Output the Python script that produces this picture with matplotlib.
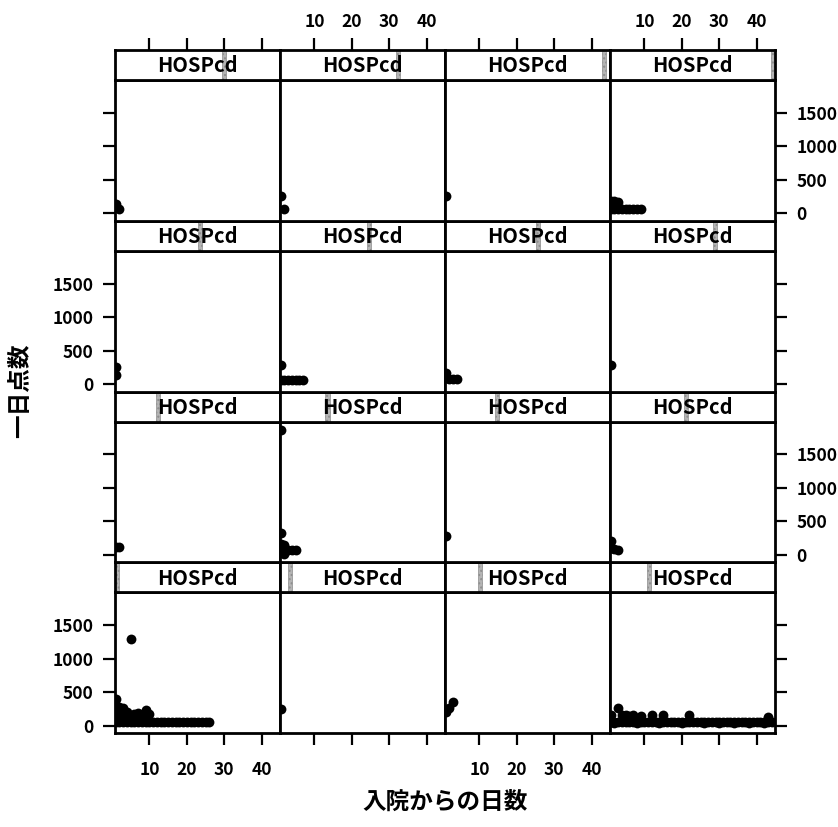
import matplotlib
matplotlib.use('Agg')
import matplotlib.pyplot as plt
from matplotlib.patches import Rectangle

plt.rcParams['font.family'] = ['Noto Sans CJK JP', 'DejaVu Sans']

# ── data: one list per panel, lattice order (bottom-left first, row by row upward) ──
days = [
    [1, 1, 1, 1, 2, 2, 2, 3, 3, 3, 4, 4, 4, 5, 5, 6, 6, 7, 7, 8, 8, 9, 9, 10, 10,
     11, 12, 13, 14, 15, 16, 17, 18, 19, 20, 21, 22, 23, 24, 25, 26],
    [1],
    [1, 2, 3],
    [1, 1, 2, 3, 3, 4, 4, 5, 5, 6, 6, 7, 7, 8, 9, 9, 10, 11, 12, 12, 13, 14,
     15, 15, 16, 17, 18, 19, 20, 21, 22, 22, 23, 24, 25, 26, 27, 28, 29, 30,
     31, 32, 33, 34, 35, 36, 37, 38, 39, 40, 41, 42, 43, 43, 44,
     2, 8, 14, 20, 26, 30, 34, 38, 42],
    [1, 2],
    [1, 1, 1, 2, 2, 2, 3, 4, 5],
    [1],
    [1, 1, 2, 3],
    [1, 1],
    [1, 1, 2, 3, 4, 5, 6, 7],
    [1, 1, 2, 3, 4],
    [1],
    [1, 2],
    [1, 2],
    [1],
    [1, 1, 2, 2, 3, 3, 4, 5, 6, 7, 8, 9],
]
points = [
    [400, 300, 150, 60, 280, 180, 60, 270, 150, 60, 200, 140, 60, 1290, 60, 170, 60,
     190, 60, 160, 60, 230, 60, 170, 60,
     55, 55, 50, 55, 50, 55, 50, 55, 50, 55, 50, 55, 50, 55, 50, 55],
    [250],
    [210, 260, 350],
    [160, 60, 60, 265, 60, 160, 60, 160, 60, 150, 60, 160, 60, 60, 150, 60, 60, 60,
     160, 60, 60, 60, 160, 60, 55, 55, 50, 55, 55, 50, 160, 55, 50, 55, 50, 55,
     50, 55, 50, 55, 50, 55, 50, 55, 50, 55, 50, 55, 50, 55, 50, 55, 135, 55, 50,
     40, 40, 40, 40, 40, 40, 40, 40, 40],
    [120, 120],
    [1870, 330, 160, 150, 60, 20, 80, 80, 80],
    [275],
    [200, 110, 90, 80],
    [260, 130],
    [290, 60, 60, 60, 60, 60, 60, 60],
    [160, 90, 80, 70, 70],
    [285],
    [140, 70],
    [265, 70],
    [265],
    [190, 70, 190, 70, 170, 70, 70, 70, 70, 70, 70, 70],
]
# HOSPcd level shown by the strip indicator (index among the hospital levels)
hosp_level = [0, 2, 8, 9, 10, 11, 12, 18, 20, 21, 22, 25, 26, 28, 38, 39]
n_levels = 40

x_ticks = [10, 20, 30, 40]
y_ticks = [0, 500, 1000, 1500]

# ── layout (pixels of the 838 x 827 figure) ──
W, H = 838, 827
COL_X = [115, 280, 445, 610, 775]
TOP = 50
ROW_H = 170.75
STRIP_H = 30
XLIM = (0.8, 44.9)
YLIM = (-110, 1990)
LW = 2.0

fig = plt.figure(figsize=(W / 100, H / 100), dpi=100)
fig.patch.set_facecolor('white')

tick_kw = dict(direction='out', length=8.5, width=1.6, labelsize=12.5, pad=7)

for i in range(16):
    r = 3 - i // 4          # 0 = top row
    c = i % 4
    x0 = COL_X[c]
    w = COL_X[c + 1] - COL_X[c]
    y_top = TOP + r * ROW_H
    # panel
    ax = fig.add_axes([x0 / W, 1 - (y_top + ROW_H) / H, w / W, (ROW_H - STRIP_H) / H])
    ax.scatter(days[i], points[i], s=50, color='black', linewidths=0, zorder=3)
    ax.set_xlim(*XLIM)
    ax.set_ylim(*YLIM)
    for sp in ax.spines.values():
        sp.set_linewidth(LW)

    # x axis (bottom row only)
    if r == 3:
        ax.set_xticks(x_ticks)
        ax.tick_params(axis='x', bottom=True, labelbottom=(c in (0, 2)), **tick_kw)
        ax.tick_params(axis='x', pad=12)
    else:
        ax.set_xticks([])

    # y axis (outer columns only)
    if c in (0, 3):
        ax.set_yticks(y_ticks)
        if c == 0:
            ax.tick_params(axis='y', left=True, right=False,
                           labelleft=(r in (1, 3)), labelright=False, **tick_kw)
        else:
            ax.tick_params(axis='y', left=False, right=True,
                           labelleft=False, labelright=(r in (0, 2)), **tick_kw)
    else:
        ax.set_yticks([])

    # strip
    sax = fig.add_axes([x0 / W, 1 - (y_top + STRIP_H) / H, w / W, STRIP_H / H])
    sax.set_xlim(*XLIM)
    sax.set_yticks([])
    for sp in sax.spines.values():
        sp.set_linewidth(LW)
    if r == 0:
        sax.set_xticks(x_ticks)
        sax.tick_params(axis='x', top=True, bottom=False,
                        labeltop=(c in (1, 3)), labelbottom=False, **tick_kw)
        sax.tick_params(axis='x', pad=5)
    else:
        sax.set_xticks([])
    lv = hosp_level[i]
    sax.add_patch(Rectangle((lv / n_levels, 0), 1 / n_levels, 1,
                            transform=sax.transAxes, facecolor='#b4b4b4',
                            edgecolor='#8c8c8c', hatch='....', linewidth=0.5, zorder=1))
    sax.text(0.5, 0.47, 'HOSPcd', transform=sax.transAxes, ha='center', va='center',
             fontsize=14.5, fontweight='bold', zorder=2)

for t in fig.findobj(matplotlib.text.Text):
    t.set_fontweight('bold')

fig.text(445 / W, 1 - 802 / H, '入院からの日数', ha='center', va='center',
         fontsize=17, fontweight='bold')
fig.text(20 / W, 1 - 391 / H, '一日点数', ha='center', va='center', rotation=90,
         fontsize=17, fontweight='bold')

fig.savefig('out.png', dpi=100, facecolor='white')
